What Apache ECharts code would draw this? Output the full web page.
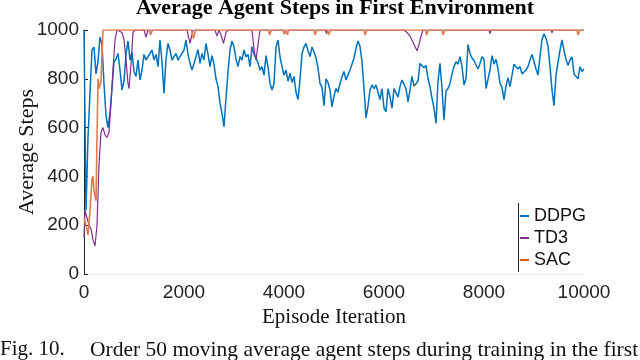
<!DOCTYPE html>
<html lang="en">
<head>
    <meta charset="UTF-8">
    <title>index</title>
    <script src="https://cdn.jsdelivr.net/npm/echarts@6/dist/echarts.min.js"></script>
    <style>
        html, body { margin: 0; padding: 0; background: #fff; }
        #main { width: 640px; height: 360px; }
    </style>
</head>
<body>
<div id="main"></div>

<script type="text/javascript">
    // moving average steps
    var ddpgStep = 40; // one DDPG value every 40 episodes
    var ddpgSteps = [
        1000, 260, 560, 742, 918, 930, 820, 870, 971, 940,
        780, 650, 600, 660, 760, 870, 880, 904, 836, 754,
        790, 900, 955, 877, 910, 830, 810, 877, 795, 836,
        900, 877, 870, 904, 918, 877, 900, 850, 959, 870,
        740, 880, 945, 918, 877, 891, 904, 877, 891, 897,
        918, 959, 900, 863, 836, 863, 891, 920, 863, 904,
        877, 945, 900, 850, 895, 860, 800, 768, 700, 658,
        604, 720, 830, 918, 955, 930, 880, 850, 891, 877,
        918, 890, 900, 850,
        932, 900, 885, 865, 836, 850, 815, 895, 850, 781,
        754, 780, 930, 959, 891, 850, 815, 836, 790, 822,
        785, 810, 745, 715, 795, 904, 930, 945, 915, 891,
        930, 910, 885, 845, 781, 765, 690, 800, 785, 754,
        685, 730, 760, 745, 781, 809, 830, 795, 790, 836,
        860, 885, 925, 955, 932, 870, 760, 640, 690, 754,
        775, 760, 775, 745, 715, 760, 680, 665, 760, 727,
        680, 760, 760, 725, 768, 795, 800, 760, 705, 754,
        810, 770, 780,
        790, 863, 855, 845, 855, 800, 768, 720, 680, 617,
        790, 863, 760, 630, 750, 760, 781, 820, 850, 870,
        860, 891, 850, 775, 800, 940, 904, 885, 875, 880,
        840, 863, 891, 880, 760, 755, 836, 895, 860, 880,
        840, 781, 765, 715, 770, 805, 768, 760, 860, 865,
        840, 850, 820, 815, 836, 850, 877, 900, 870, 840,
        815, 891, 960, 985, 965, 935, 850, 754, 690, 815,
        810, 918, 959, 915, 880, 855, 877, 890, 820, 810,
        800, 850, 830, 840
    ];

    var td3Episodes = [0, 20, 60, 100, 140, 180, 220, 260, 300, 340, 380, 420, 460, 500, 540, 580, 620, 660, 760, 800, 840, 880, 900, 940, 980, 1020,
        1200, 1240, 1280, 2060, 2120, 2180, 2620, 2660, 2700, 2740, 2790, 2840, 2880, 3360, 3400, 3440, 3480, 3520,
        3980, 4000, 4020, 4830, 4850, 4870, 6400, 6460, 6520, 6580, 6660, 6700, 6740, 6780, 8100, 8120, 8140,
        9340, 9360, 9380, 10000];
    var td3Steps = [150, 260, 230, 200, 185, 140, 115, 200, 450, 580, 600, 570, 560, 580, 700, 840, 960, 1000, 990, 960, 880, 780, 760, 860, 990, 1000,
        1000, 970, 1000, 1000, 945, 1000, 1000, 975, 1000, 980, 945, 990, 1000, 1000, 920, 877, 940, 1000,
        1000, 985, 1000, 1000, 985, 1000, 1000, 990, 975, 950, 915, 940, 975, 1000, 1000, 985, 1000,
        1000, 988, 1000, 1000];

    var sacEpisodes = [0, 40, 80, 120, 160, 180, 200, 240, 260, 280, 300, 320, 340, 360, 380,
        1310, 1330, 1350, 1370, 2150, 2190, 2230, 3690, 3710, 3730, 3750, 3990, 4010, 4030, 4050, 4070, 4090,
        4600, 4620, 4640, 4660, 4870, 4890, 4910, 4930, 5600, 5620, 5640, 5660, 6830, 6850, 6870, 6890,
        7160, 7180, 7200, 7220, 9860, 9880, 9900, 9920, 10000];
    var sacSteps = [230, 200, 160, 260, 390, 400, 340, 300, 560, 800, 760, 760, 790, 900, 1000,
        1000, 980, 980, 1000, 1000, 965, 1000, 1000, 980, 980, 1000, 1000, 982, 1000, 1000, 980, 1000,
        1000, 980, 980, 1000, 1000, 980, 980, 1000, 1000, 980, 980, 1000, 1000, 980, 980, 1000,
        1000, 980, 980, 1000, 1000, 980, 980, 1000, 1000];

    var xTicks = [0, 2000, 4000, 6000, 8000, 10000];
    var yTicks = [0, 200, 400, 600, 800, 1000];

    var ddpgData = ddpgSteps.map(function (v, i) { return [i * ddpgStep, v]; });
    var td3Data = td3Episodes.map(function (e, i) { return [e, td3Steps[i]]; });
    var sacData = sacEpisodes.map(function (e, i) { return [e, sacSteps[i]]; });

    var serif = 'Liberation Serif';
    var sans = 'Liberation Sans';

    var myChart = echarts.init(document.getElementById('main'));

    var option = {
        animation: false,
        backgroundColor: '#fff',
        title: [{
            text: 'Average Agent Steps in First Environment',
            left: 335,
            textAlign: 'center',
            top: -3,
            padding: 0,
            textStyle: {fontFamily: serif, fontWeight: 'bold', fontSize: 22, color: '#000'}
        }, {
            text: 'Fig. 10.',
            left: 0,
            top: 339,
            padding: 0,
            textStyle: {fontFamily: serif, fontWeight: 'normal', fontSize: 21, color: '#111'}
        }, {
            text: 'Order 50 moving average agent steps during training in the first environment',
            left: 90,
            top: 339,
            padding: 0,
            textStyle: {fontFamily: serif, fontWeight: 'normal', fontSize: 21.5, color: '#111'}
        }],
        legend: {
            data: ['DDPG', 'TD3', 'SAC'],
            orient: 'vertical',
            left: 518,
            top: 203,
            padding: [4, 2, 4, 2],
            itemGap: 4,
            itemWidth: 9,
            itemHeight: 2,
            icon: 'rect',
            backgroundColor: '#fff',
            textStyle: {fontFamily: sans, fontSize: 18, color: '#111', lineHeight: 18}
        },
        graphic: [{
            type: 'line',
            shape: {x1: 518.5, y1: 203, x2: 518.5, y2: 272},
            style: {stroke: '#222', lineWidth: 1},
            z: 100
        }],
        grid: {left: 84, right: 56, top: 30, bottom: 86},
        xAxis: {
            type: 'value',
            min: 0,
            max: 10000,
            interval: 2000,
            name: 'Episode Iteration',
            nameLocation: 'middle',
            nameGap: 33,
            nameMoveOverlap: false,
            nameTextStyle: {fontFamily: serif, fontSize: 21, color: '#111'},
            axisLine: {lineStyle: {color: '#ececec'}},
            axisTick: {show: false},
            splitLine: {show: false},
            axisLabel: {
                fontFamily: sans, fontSize: 19, color: '#222', margin: 9,
                formatter: function (v) { return xTicks.indexOf(v) >= 0 ? String(v) : ''; }
            }
        },
        yAxis: {
            type: 'value',
            min: 0,
            max: 1000,
            interval: 200,
            name: 'Average Steps',
            nameLocation: 'middle',
            nameGap: 46,
            nameMoveOverlap: false,
            nameTextStyle: {fontFamily: serif, fontSize: 22, color: '#111'},
            axisLine: {show: true, lineStyle: {color: '#222', width: 1}},
            axisTick: {show: true, inside: true, length: 4, lineStyle: {color: '#222'}},
            splitLine: {show: false},
            axisLabel: {
                fontFamily: sans, fontSize: 19, color: '#222', margin: 5,
                formatter: function (v) { return yTicks.indexOf(v) >= 0 ? String(v) : ''; }
            }
        },
        series: [{
            name: 'DDPG',
            type: 'line',
            data: ddpgData,
            showSymbol: false,
            color: '#0072BD',
            lineStyle: {width: 1.5, color: '#0072BD'}
        }, {
            name: 'TD3',
            type: 'line',
            data: td3Data,
            showSymbol: false,
            color: '#7E2F8E',
            lineStyle: {width: 1.2, color: '#7E2F8E'}
        }, {
            name: 'SAC',
            type: 'line',
            data: sacData,
            showSymbol: false,
            color: '#D95319',
            lineStyle: {width: 1.6, color: '#E07A4F'}
        }]
    };

    myChart.setOption(option);
</script>
</body>
</html>
